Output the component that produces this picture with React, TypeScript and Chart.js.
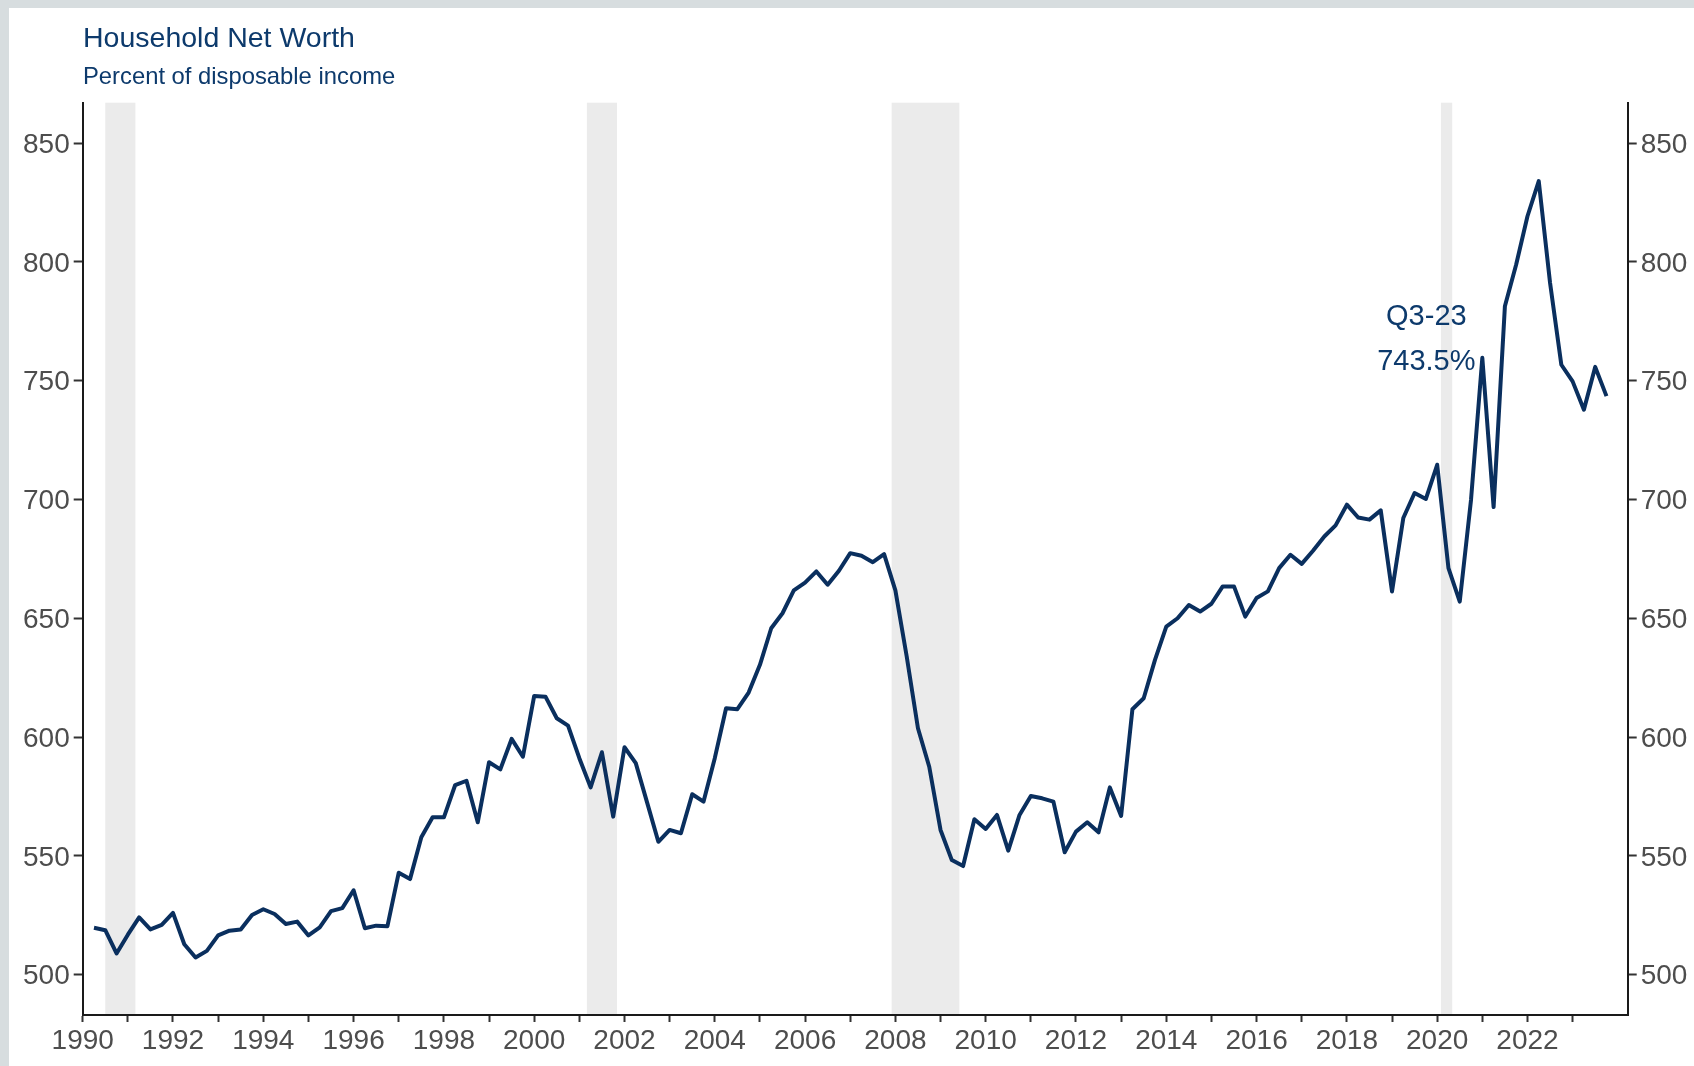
import React, { useEffect, useRef } from "react";
import { Chart, registerables } from "chart.js";

Chart.register(...registerables);

// ---- data -------------------------------------------------------------
const firstYear = 1990; // first observation is 1990 Q1 (plotted at quarter end)

// Household net worth, percent of disposable income, quarterly 1990Q1–2023Q3
const netWorth = [
  519.7, 518.7, 508.9, 516.8, // 1990
  524.1, 519.0, 520.9, 526.0, // 1991
  512.8, 507.2, 510.0, 516.5, // 1992
  518.5, 519.0, 525.1, 527.5, // 1993
  525.5, 521.3, 522.3, 516.5, // 1994
  519.9, 526.7, 528.0, 535.5, // 1995
  519.5, 520.6, 520.4, 542.9, // 1996
  540.2, 557.8, 566.2, 566.2, // 1997
  579.8, 581.6, 564.1, 589.4, // 1998
  586.4, 599.2, 591.7, 617.3, // 1999
  617.0, 607.9, 604.8, 591.1, // 2000
  578.8, 593.6, 566.5, 595.7, // 2001
  589.0, 572.5, 555.9, 560.9, // 2002
  559.5, 575.9, 572.8, 591.1, // 2003
  612.1, 611.7, 618.7, 630.4, // 2004
  645.8, 652.1, 661.7, 665.0, // 2005
  669.7, 664.1, 670.0, 677.4, // 2006
  676.3, 673.6, 677.0, 661.7, // 2007
  634.0, 603.7, 587.5, 560.9, // 2008
  548.2, 545.7, 565.4, 561.3, // 2009
  567.2, 552.2, 567.2, 575.2, // 2010
  574.2, 572.8, 551.5, 560.2, // 2011
  564.1, 559.9, 578.8, 566.8, // 2012
  611.7, 616.3, 632.5, 646.5, // 2013
  650.0, 655.6, 652.8, 656.1, // 2014
  663.4, 663.4, 650.7, 658.5, // 2015
  661.3, 671.1, 676.7, 672.9, // 2016
  678.4, 684.4, 689.1, 697.8, // 2017
  692.4, 691.5, 695.4, 661.3, // 2018
  692.2, 702.7, 700.2, 714.6, // 2019
  671.1, 657.0, 699.9, 759.6, // 2020
  696.8, 781.3, 798.9, 819.2, // 2021
  834.0, 791.2, 756.7, 749.7, // 2022
  737.8, 755.8, 743.5,        // 2023
];

const yTicks = [500, 550, 600, 650, 700, 750, 800, 850];

const xTickYears = [
  1990, 1991, 1992, 1993, 1994, 1995, 1996, 1997, 1998, 1999,
  2000, 2001, 2002, 2003, 2004, 2005, 2006, 2007, 2008, 2009,
  2010, 2011, 2012, 2013, 2014, 2015, 2016, 2017, 2018, 2019,
  2020, 2021, 2022, 2023,
];
const xLabelYears = [
  1990, 1992, 1994, 1996, 1998, 2000, 2002, 2004, 2006, 2008,
  2010, 2012, 2014, 2016, 2018, 2020, 2022,
];

// NBER recessions (start, end) as decimal years
const recessionStarts = [1990.5, 2001.167, 2007.917, 2020.083];
const recessionEnds = [1991.167, 2001.833, 2009.417, 2020.333];

const titleText = "Household Net Worth";
const subtitleText = "Percent of disposable income";
const annotationLines = ["Q3-23", "743.5%"];

// ---- styling ----------------------------------------------------------
const FONT = '"Liberation Sans", Arial, Helvetica, sans-serif';
const NAVY = "#0a2f5e";
const TEXT_NAVY = "#0d3a6c";
const TICK_GREY = "#4d4d4d";

const CANVAS_W = 1685;
const CANVAS_H = 1058;

const bandsPlugin = {
  id: "recessionBands",
  beforeDraw(chart: any) {
    const { ctx, chartArea, scales } = chart;
    const x = scales.x;
    ctx.save();
    ctx.fillStyle = "#ebebeb";
    for (let i = 0; i < recessionStarts.length; i++) {
      const x0 = x.getPixelForValue(recessionStarts[i]);
      const x1 = x.getPixelForValue(recessionEnds[i]);
      ctx.fillRect(x0, chartArea.top, x1 - x0, chartArea.bottom - chartArea.top);
    }
    ctx.restore();
  },
};

const textPlugin = {
  id: "texts",
  afterDraw(chart: any) {
    const { ctx, scales } = chart;
    ctx.save();
    ctx.fillStyle = TEXT_NAVY;
    ctx.textBaseline = "alphabetic";
    ctx.textAlign = "left";
    ctx.font = `28.5px ${FONT}`;
    ctx.fillText(titleText, 74, 38.9);
    ctx.font = `23.8px ${FONT}`;
    ctx.fillText(subtitleText, 74, 75.5);

    ctx.textAlign = "center";
    ctx.font = `29px ${FONT}`;
    const ax = scales.x.getPixelForValue(2019.76);
    ctx.fillText(annotationLines[0], ax, scales.y.getPixelForValue(773.6));
    ctx.fillText(annotationLines[1], ax, scales.y.getPixelForValue(754.3));
    ctx.restore();
  },
};

function yScale(position: "left" | "right", width: number) {
  return {
    type: "linear" as const,
    position,
    min: 483,
    max: 867,
    afterBuildTicks: (s: any) => {
      s.ticks = yTicks.map((v) => ({ value: v }));
    },
    afterFit: (s: any) => {
      s.width = width;
    },
    grid: {
      display: true,
      drawOnChartArea: false,
      drawTicks: true,
      tickLength: 9,
      tickWidth: 2,
      tickColor: "#333333",
    },
    border: { display: true, color: "#1a1a1a", width: 2 },
    ticks: {
      padding: 4,
      labelOffset: 2,
      color: TICK_GREY,
      font: { family: FONT, size: 28 },
      callback: (v: any) => String(v),
    },
  };
}

export default function App() {
  const canvasRef = useRef<HTMLCanvasElement | null>(null);

  useEffect(() => {
    if (!canvasRef.current) return;
    const chart = new Chart(canvasRef.current, {
      type: "line",
      data: {
        datasets: [
          {
            data: netWorth.map((v, i) => ({ x: firstYear + (i + 1) / 4, y: v })),
            borderColor: NAVY,
            borderWidth: 4,
            pointRadius: 0,
            tension: 0,
            borderJoinStyle: "round",
            yAxisID: "y",
            xAxisID: "x",
          } as any,
        ],
      },
      options: {
        animation: false,
        responsive: false,
        events: [],
        layout: { padding: { top: 94.7, left: 0, right: 0, bottom: 0 } },
        plugins: {
          legend: { display: false },
          tooltip: { enabled: false },
          title: { display: false },
        },
        scales: {
          x: {
            type: "linear",
            min: 1990,
            max: 2024.22,
            afterBuildTicks: (s: any) => {
              s.ticks = xTickYears.map((v) => ({ value: v }));
            },
            afterFit: (s: any) => {
              s.height = 51;
            },
            grid: {
              display: true,
              drawOnChartArea: false,
              drawTicks: true,
              tickLength: 7,
              tickWidth: 2,
              tickColor: "#333333",
            },
            border: { display: true, color: "#1a1a1a", width: 2 },
            ticks: {
              autoSkip: false,
              maxRotation: 0,
              minRotation: 0,
              padding: 2,
              color: TICK_GREY,
              font: { family: FONT, size: 28 },
              callback: (v: any) => (xLabelYears.includes(Number(v)) ? String(v) : ""),
            },
          },
          y: yScale("left", 73.7),
          y2: yScale("right", 66.3),
        } as any,
      },
      plugins: [bandsPlugin, textPlugin],
    });
    return () => chart.destroy();
  }, []);

  return (
    <div
      style={{
        position: "absolute",
        left: 0,
        top: 0,
        width: 1694,
        height: 1066,
        background: "#d7dddf",
        overflow: "hidden",
      }}
    >
      <div
        style={{
          position: "absolute",
          left: 9,
          top: 8,
          width: CANVAS_W,
          height: CANVAS_H,
          background: "#ffffff",
        }}
      >
        <canvas
          ref={canvasRef}
          width={CANVAS_W}
          height={CANVAS_H}
          style={{ width: CANVAS_W, height: CANVAS_H, display: "block" }}
        />
      </div>
    </div>
  );
}
